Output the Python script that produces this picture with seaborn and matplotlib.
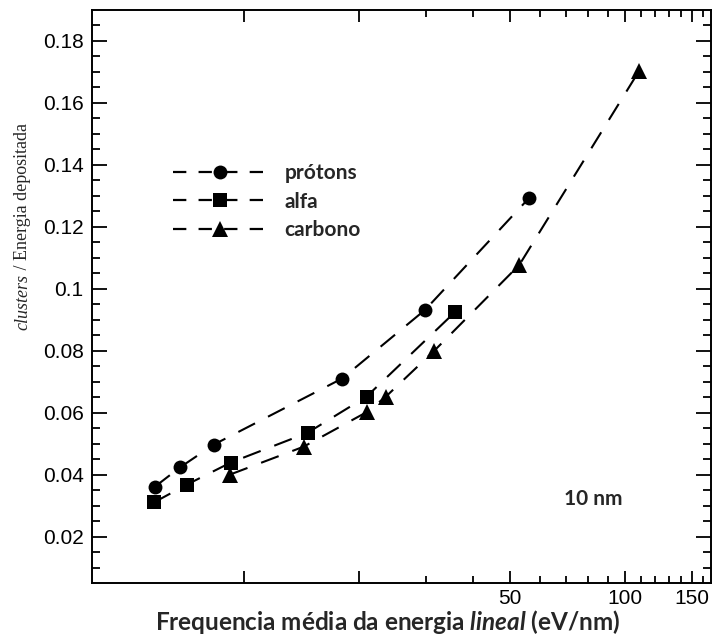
import numpy as np
import pandas as pd
import matplotlib
matplotlib.use("Agg")
import matplotlib.pyplot as plt
from matplotlib.ticker import FixedLocator, FixedFormatter, NullFormatter
from matplotlib.lines import Line2D
import seaborn as sns

# ---- data ----
protons_x = [5.85, 6.8, 8.35, 18.1, 29.9, 56.1]
protons_y = [0.0361, 0.0423, 0.0497, 0.0710, 0.0932, 0.1294]
alpha_x = [5.81, 7.1, 9.25, 14.7, 21.0, 35.9]
alpha_y = [0.0310, 0.0368, 0.0439, 0.0535, 0.0652, 0.0926]
carbon_x = [9.2, 14.35, 21.1, 23.6, 31.6, 52.8, 108.8]
carbon_y = [0.0400, 0.0490, 0.0603, 0.0652, 0.0800, 0.1077, 0.1703]
series_names = ["prótons", "alfa", "carbono"]

xtick_major = [10, 20, 50, 100, 150]
xtick_labels = ["", "", "50", "100", "150"]
xtick_minor = [30, 40, 60, 70, 80, 90, 110, 120, 130, 140, 160, 170]
ytick_major = [0.02, 0.04, 0.06, 0.08, 0.1, 0.12, 0.14, 0.16, 0.18]
ytick_labels = ["0.02", "0.04", "0.06", "0.08", "0.1", "0.12", "0.14", "0.16", "0.18"]

sns.set_style("white")
plt.rcParams["font.family"] = ["Liberation Sans", "DejaVu Sans"]
plt.rcParams["mathtext.fontset"] = "custom"
plt.rcParams["mathtext.rm"] = "Lato:bold"
plt.rcParams["mathtext.it"] = "Lato:italic:bold"
plt.rcParams["mathtext.bf"] = "Lato:bold"

W, H = 715, 638
fig = plt.figure(figsize=(W / 100, H / 100), dpi=100)
L, R, T, B = 92, 711, 10, 583
ax = fig.add_axes([L / W, 1 - B / H, (R - L) / W, (B - T) / H])

markers = ["o", "s", "^"]
msizes = [10, 10, 11]
xs = [protons_x, alpha_x, carbon_x]
ys = [protons_y, alpha_y, carbon_y]
ls = (0, (9.0, 7.0))
handles = []
for name, x, y, m, ms in zip(series_names, xs, ys, markers, msizes):
    df = pd.DataFrame({"x": x, "y": y})
    sns.lineplot(data=df, x="x", y="y", ax=ax, color="black", marker=m,
                 markersize=ms, markeredgecolor="black", markeredgewidth=0,
                 linewidth=1.5, linestyle=ls, sort=True, estimator=None)
    handles.append(Line2D([], [], color="black", marker=m, markersize=ms,
                          markeredgewidth=0, linewidth=1.6, linestyle=(0, (6.0, 5.5))))

ax.set_xscale("log")
ax.set_xlim(4.0, 168)
ax.set_ylim(0.005, 0.19)
ax.xaxis.set_major_locator(FixedLocator(xtick_major))
ax.xaxis.set_major_formatter(FixedFormatter(xtick_labels))
ax.xaxis.set_minor_locator(FixedLocator(xtick_minor))
ax.xaxis.set_minor_formatter(NullFormatter())
ax.yaxis.set_major_locator(FixedLocator(ytick_major))
ax.yaxis.set_major_formatter(FixedFormatter(ytick_labels))
ax.yaxis.set_minor_locator(FixedLocator(list(np.arange(0.01, 0.19, 0.005))))

for s in ax.spines.values():
    s.set_linewidth(1.4)
    s.set_color("black")
ax.tick_params(axis="both", which="both", direction="in", top=True, right=True,
               bottom=True, left=True, colors="black", width=1.3)
ax.tick_params(axis="y", which="major", length=11, labelsize=15, pad=6)
ax.tick_params(axis="y", which="minor", length=5.5)
ax.tick_params(axis="x", which="major", length=8.5, labelsize=15, pad=4)
ax.tick_params(axis="x", which="minor", length=5)
ax.set_xlabel("")
ax.set_ylabel("")

leg = ax.legend(handles, series_names, loc="upper left",
                bbox_to_anchor=((173 - L) / (R - L), 1 - (163 - T) / (B - T)),
                frameon=False, handlelength=4.5, handletextpad=0.85,
                labelspacing=0.42, numpoints=1, borderaxespad=0, borderpad=0,
                prop={"family": "Lato", "weight": "bold", "size": 15})

ax.text((593 - L) / (R - L), (B - 499) / (B - T), "10 nm", transform=ax.transAxes,
        ha="center", va="center", fontfamily="Lato", fontweight="bold", fontsize=15)

fig.text(388 / W, 1 - 622 / H, r"Frequencia média da energia $\mathit{lineal}$ (eV/nm)",
         ha="center", va="center", fontfamily="Lato", fontweight="bold", fontsize=17.5)

# y label in two pieces (italic + roman serif)
fig.canvas.draw()
r = fig.canvas.get_renderer()
y0 = (H - 330) / H
t1 = fig.text(23 / W, y0, "clusters", rotation=90, ha="center", va="bottom",
              fontfamily="Liberation Serif", fontstyle="italic", fontsize=13)
h1 = t1.get_window_extent(r).height / H
fig.text(23 / W, y0 + h1, " / Energia depositada", rotation=90, ha="center",
         va="bottom", fontfamily="Liberation Serif", fontsize=13)

fig.savefig("out.png", dpi=100)
